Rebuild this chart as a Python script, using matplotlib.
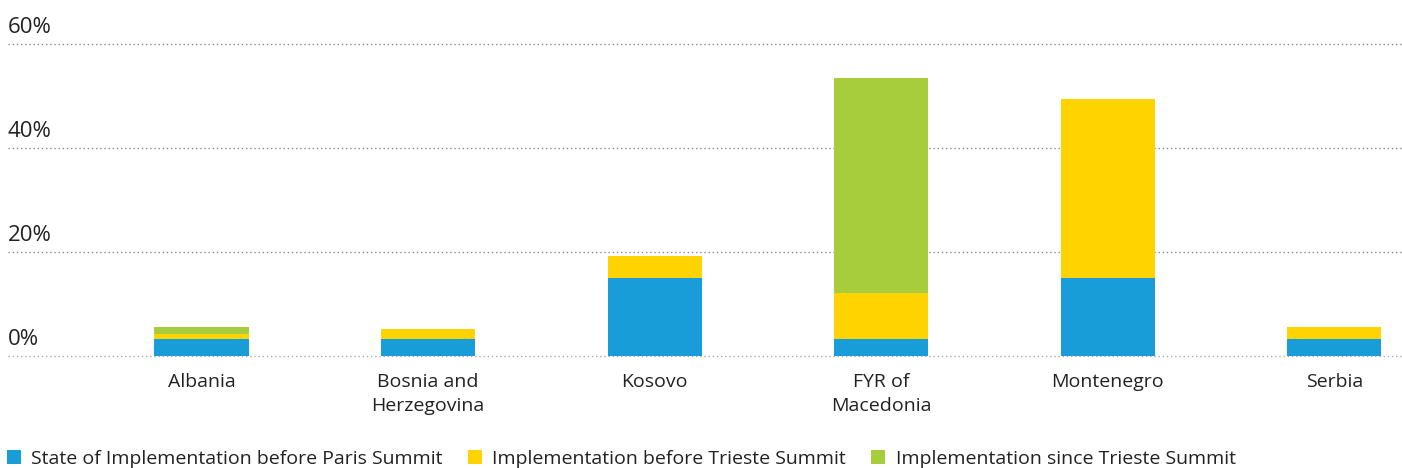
import matplotlib.pyplot as plt
import numpy as np
from matplotlib.patches import Patch
from matplotlib.transforms import blended_transform_factory

plt.rcParams['font.family'] = ['Open Sans', 'DejaVu Sans']

countries = ['Albania', 'Bosnia and\nHerzegovina', 'Kosovo', 'FYR of\nMacedonia', 'Montenegro', 'Serbia']
before_paris = [3.3, 3.3, 15.0, 3.3, 15.0, 3.3]
before_trieste = [1.0, 1.9, 4.25, 8.85, 34.4, 2.3]
since_trieste = [1.3, 0.0, 0.0, 41.25, 0.0, 0.0]
series_labels = ['State of Implementation before Paris Summit',
                 'Implementation before Trieste Summit',
                 'Implementation since Trieste Summit']
colors = ['#189dd8', '#ffd300', '#a8cd3c']
yticks = [0, 20, 40, 60]

fig = plt.figure(figsize=(14.02, 4.68), dpi=100)
ax = fig.add_axes([0.0057, 0.2387, 0.9943, 0.668])

x = np.arange(len(countries))
w = 0.415
bottom = np.zeros(len(countries))
for vals, c in zip([before_paris, before_trieste, since_trieste], colors):
    ax.bar(x, vals, w, bottom=bottom, color=c, zorder=2)
    bottom += np.array(vals)

ax.set_xlim(-0.854, 5.298)
ax.set_ylim(0, 60)
ax.set_yticks([])
trans = blended_transform_factory(ax.transAxes, ax.transData)
for v in yticks:
    ax.axhline(v, color='#888888' if v else '#aaaaaa', lw=1, ls=(0, (1, 2)),
               zorder=1, clip_on=False)
    ax.annotate(f'{v}%', xy=(0, v), xycoords=trans, xytext=(0, 8),
                textcoords='offset points', ha='left', va='baseline',
                fontsize=16, color='#222222')

ax.set_xticks(x)
ax.set_xticklabels(countries, fontsize=14, color='#222222', linespacing=1.45)
ax.tick_params(axis='x', length=0, pad=12)
for s in ax.spines.values():
    s.set_visible(False)

handles = [Patch(facecolor=c, edgecolor='none') for c in colors]
fig.legend(handles, series_labels, loc='lower left', bbox_to_anchor=(0.005, 0.0),
           ncol=3, frameon=False, fontsize=14, handlelength=0.7, handleheight=0.7,
           handletextpad=0.55, columnspacing=1.3, borderpad=0, borderaxespad=0,
           labelcolor='#222222')

fig.savefig('out.png', dpi=100)
